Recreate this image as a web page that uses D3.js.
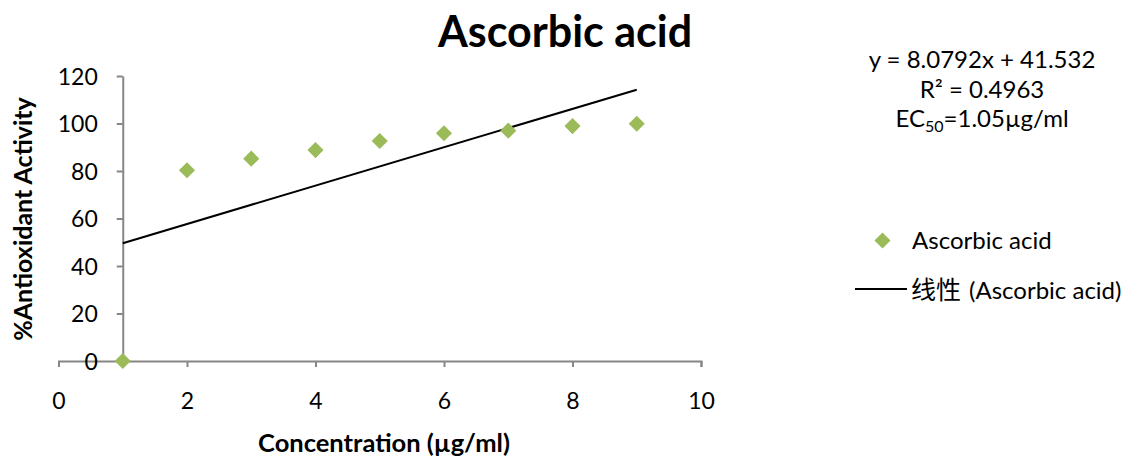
<!DOCTYPE html>
<html><head><meta charset="utf-8">
<script src="https://cdn.jsdelivr.net/npm/d3@7"></script>
<style>
body{margin:0;background:#fff;}
svg{display:block;}
text{font-family:Lato,"Noto Sans CJK SC",sans-serif;fill:#000;}
</style></head>
<body><svg id="c" width="1129" height="456"></svg>
<script>
const title = "Ascorbic acid";
const xTitle = "Concentration (µg/ml)";
const yTitle = "%Antioxidant Activity";
const concentrations = [1, 2, 3, 4, 5, 6, 7, 8, 9];
const activity = [0, 80.3, 85.2, 88.8, 92.6, 95.9, 97.0, 98.9, 99.9];
const xTicks = [0, 2, 4, 6, 8, 10];
const yTicks = [0, 20, 40, 60, 80, 100, 120];
const trendSlope = 8.0792;
const trendIntercept = 41.532;
const equationLines = ["y = 8.0792x + 41.532", "R² = 0.4963"];
const seriesName = "Ascorbic acid";
const trendPrefix = "线性";
const trendSuffix = "(Ascorbic acid)";

const svg = d3.select("#c");
const x = d3.scaleLinear().domain([0, 10]).range([58.5, 701]);
const y = d3.scaleLinear().domain([0, 120]).range([361, 76]);
const axisColor = "#868686";

// x axis at y=0
const gx = svg.append("g").attr("transform", `translate(0,${y(0)})`)
  .call(d3.axisBottom(x).tickValues(xTicks).tickSize(6).tickPadding(26).tickFormat(d3.format("d")));
gx.select(".domain").attr("stroke", axisColor).attr("stroke-width", 2);
gx.selectAll(".tick line").attr("stroke", axisColor).attr("stroke-width", 2);
gx.selectAll(".tick text").style("font-size", "23px").attr("fill", "#000");

// y axis crossing at x=1
const gy = svg.append("g").attr("transform", `translate(${x(1)},0)`)
  .call(d3.axisLeft(y).tickValues(yTicks).tickSize(6).tickPadding(19).tickSizeOuter(0));
gy.select(".domain").attr("stroke", axisColor).attr("stroke-width", 2);
gy.selectAll(".tick line").attr("stroke", axisColor).attr("stroke-width", 2);
gy.selectAll(".tick text").style("font-size", "23px").attr("fill", "#000").attr("dy", "0.36em");

// trendline
const x0 = d3.min(concentrations), x1 = d3.max(concentrations);
svg.append("line")
  .attr("x1", x(x0)).attr("y1", y(trendSlope * x0 + trendIntercept))
  .attr("x2", x(x1)).attr("y2", y(trendSlope * x1 + trendIntercept))
  .attr("stroke", "#000").attr("stroke-width", 2);

// points
const diamond = d3.symbol().type(d3.symbolDiamond2).size(165);
svg.append("g").selectAll("path").data(concentrations).join("path")
  .attr("d", diamond)
  .attr("transform", (d, i) => `translate(${x(d)},${y(activity[i])})`)
  .attr("fill", "#9BBB59");

// titles
svg.append("text").attr("x", 565).attr("y", 47).attr("text-anchor", "middle")
  .style("font-size", "43px").style("font-weight", "bold").text(title);
svg.append("text").attr("x", 384).attr("y", 452).attr("text-anchor", "middle")
  .style("font-size", "25.5px").style("font-weight", "bold").text(xTitle);
svg.append("text").attr("transform", "translate(32,219) rotate(-90)").attr("text-anchor", "middle")
  .style("font-size", "25px").style("font-weight", "bold").text(yTitle);

// equation
const eq = svg.append("g").style("font-size", "24px");
eq.append("text").attr("x", 982).attr("y", 68).attr("text-anchor", "middle").text(equationLines[0]);
eq.append("text").attr("x", 982).attr("y", 98).attr("text-anchor", "middle").text(equationLines[1]);
const ec = eq.append("text").attr("x", 982).attr("y", 127).attr("text-anchor", "middle");
ec.append("tspan").text("EC");
ec.append("tspan").attr("dy", 5).style("font-size", "16px").text("50");
ec.append("tspan").attr("dy", -5).text("=1.05µg/ml");

// legend
svg.append("path").attr("d", diamond).attr("transform", "translate(882.5,240.5)").attr("fill", "#9BBB59");
svg.append("text").attr("x", 912).attr("y", 249).style("font-size", "24px").text(seriesName);
svg.append("line").attr("x1", 855).attr("x2", 907).attr("y1", 289).attr("y2", 289).attr("stroke", "#000").attr("stroke-width", 2);
const tl = svg.append("text").attr("x", 911).attr("y", 299).style("font-size", "24px");
tl.append("tspan").style("font-size", "25px").text(trendPrefix);
tl.append("tspan").attr("dx", 8).text(trendSuffix);
</script></body></html>
